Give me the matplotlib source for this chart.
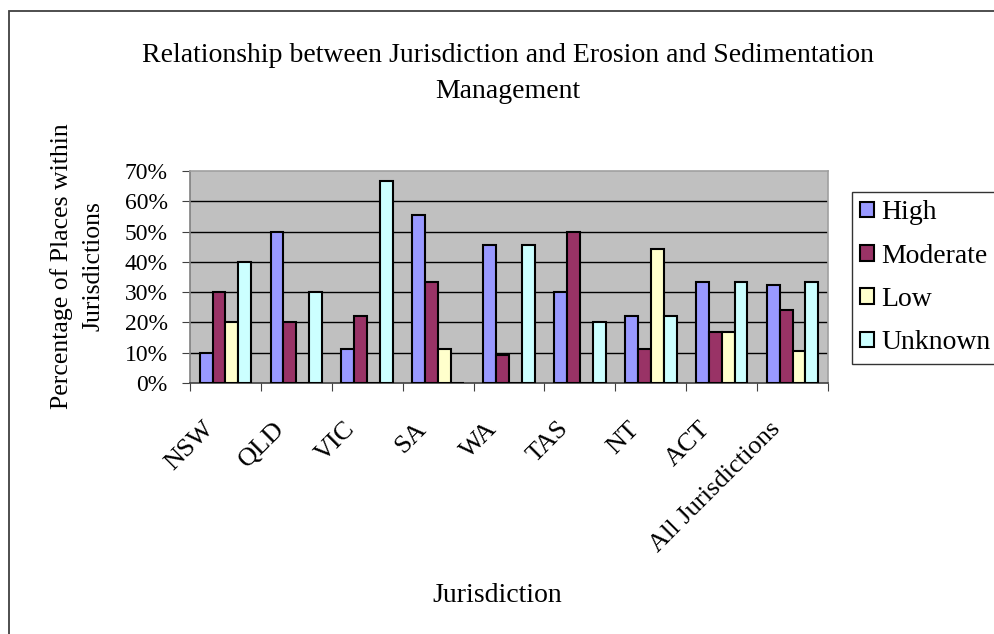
import numpy as np
import matplotlib
matplotlib.use('Agg')
import matplotlib.pyplot as plt
import matplotlib.transforms as mtransforms
from matplotlib.patches import Rectangle
from matplotlib.ticker import FixedLocator, FuncFormatter

# survey results, percent of places in each jurisdiction
jurisdictions = ['NSW', 'QLD', 'VIC', 'SA', 'WA', 'TAS', 'NT', 'ACT', 'All Jurisdictions']
high = [10, 50, 11.1, 55.6, 45.5, 30, 22.2, 33.3, 32.2]
moderate = [30, 20, 22.2, 33.3, 9.1, 50, 11.1, 16.7, 24.1]
low = [20, 0, 0, 11.1, 0, 0, 44.4, 16.7, 10.7]
unknown = [40, 30, 66.7, 0, 45.5, 20, 22.2, 33.3, 33.3]

series = [('High', high, '#9999FF'),
          ('Moderate', moderate, '#993366'),
          ('Low', low, '#FFFFCC'),
          ('Unknown', unknown, '#CCFFFF')]

plt.rcParams['font.family'] = ['Liberation Serif', 'DejaVu Serif']

fig = plt.figure(figsize=(9.95, 6.34), dpi=100)
W, H = 995.0, 634.0

# outer chart frame (only left and top edges fall inside the image)
fig.patches.append(Rectangle((9 / W, -0.2), 1.2, 1.2 - 11 / H,
                             transform=fig.transFigure, fill=False,
                             edgecolor='#404040', linewidth=1.3))

ax = fig.add_axes([190 / W, (H - 383) / H, (828 - 190) / W, (383 - 171) / H])
ax.set_facecolor('#C0C0C0')

x = np.arange(len(jurisdictions))
w = 1 / 5.5
for i, (name, vals, col) in enumerate(series):
    ax.bar(x + (i - 1.5) * w, vals, width=w, color=col, edgecolor='black',
           linewidth=1.5, label=name, zorder=3)

ax.set_xlim(-0.5, len(jurisdictions) - 0.5)
ax.set_ylim(0, 70)
ax.set_yticks(np.arange(0, 71, 10))
ax.yaxis.set_major_formatter(FuncFormatter(lambda v, p: '%d%%' % v))
for yv in range(10, 70, 10):
    ax.axhline(yv, color='black', linewidth=1.0, zorder=1)

# category ticks sit between the groups
ax.xaxis.set_major_locator(FixedLocator(np.arange(-0.5, len(jurisdictions), 1)))
ax.xaxis.set_major_formatter(FuncFormatter(lambda v, p: ''))
ax.set_xticks(x, minor=True)
ax.set_xticklabels(jurisdictions, minor=True, rotation=45, ha='right',
                   rotation_mode='anchor', fontsize=19)
ax.tick_params(axis='x', which='minor', length=0, pad=25)
ax.tick_params(axis='x', which='major', length=6, direction='out', color='#404040')
ax.tick_params(axis='y', length=6, direction='out', labelsize=17, pad=10, color='#404040')

shift = mtransforms.ScaledTranslation(-23 / 100, 0, fig.dpi_scale_trans)
for lab in ax.get_xticklabels(minor=True):
    lab.set_transform(lab.get_transform() + shift)

ax.spines['left'].set_color('#808080')
ax.spines['bottom'].set_color('#404040')
ax.spines['top'].set_color('#A0A0A0')
ax.spines['right'].set_color('#A0A0A0')
for s in ax.spines.values():
    s.set_linewidth(1.2)

fig.text(508 / W, 1 - 55 / H, 'Relationship between Jurisdiction and Erosion and Sedimentation',
         ha='center', va='center', fontsize=20)
fig.text(508 / W, 1 - 91 / H, 'Management', ha='center', va='center', fontsize=20)
fig.text(497 / W, 1 - 595 / H, 'Jurisdiction', ha='center', va='center', fontsize=20)
fig.text(62 / W, 1 - 266 / H, 'Percentage of Places within', rotation=90,
         ha='center', va='center', fontsize=18.5)
fig.text(94 / W, 1 - 266 / H, 'Jurisdictions', rotation=90,
         ha='center', va='center', fontsize=18.5)

leg = fig.legend(loc='upper left', bbox_to_anchor=(852 / W, 1 - 192 / H),
                 fontsize=20, frameon=True, fancybox=False, edgecolor='black',
                 handlelength=0.5, handleheight=0.5, handletextpad=0.25,
                 labelspacing=0.66, borderpad=0.3, borderaxespad=0)
leg.get_frame().set_linewidth(1.0)

fig.savefig('out.png', dpi=100)
